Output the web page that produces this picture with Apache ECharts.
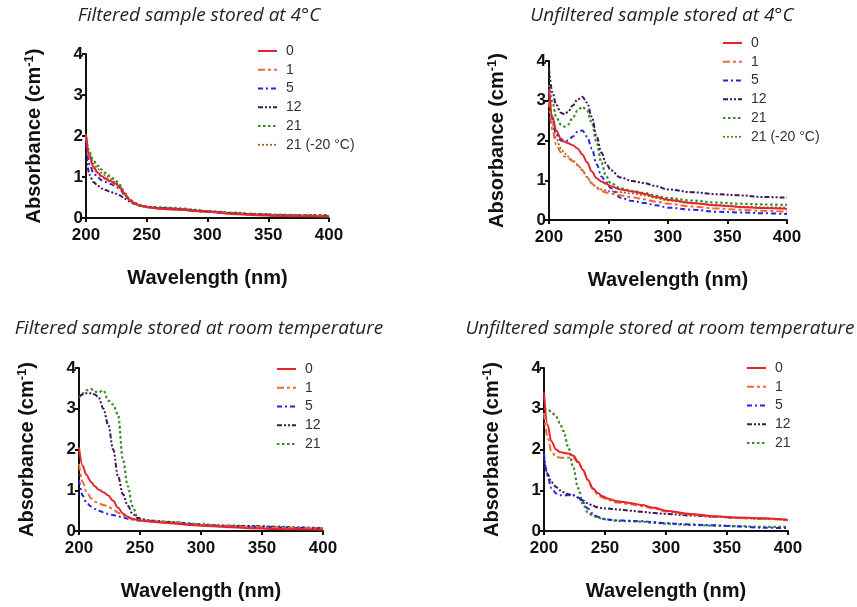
<!DOCTYPE html>
<html>
<head>
<meta charset="utf-8">
<script src="https://cdn.jsdelivr.net/npm/echarts@6/dist/echarts.min.js"></script>
<style>
  html, body { margin: 0; padding: 0; background: #ffffff; }
  #chart { width: 857px; height: 607px; }
</style>
</head>
<body>
<div id="chart"></div>
<script>
// Wavelength grid (nm) shared by every spectrum
const wavelength = [200, 203, 206, 210, 213, 216, 220, 224, 228, 232, 236, 240, 244, 248, 252, 260, 270, 280, 290, 300, 320, 340, 360, 380, 400];

// Storage time (days) of each spectrum
const daysLabels4C = ['0', '1', '5', '12', '21', '21 (-20 °C)'];
const daysLabelsRT = ['0', '1', '5', '12', '21'];

// Axis ticks
const xTicks = [200, 250, 300, 350, 400];
const yTicks = [0, 1, 2, 3, 4];

// Panel titles
const panelTitles = [
  'Filtered sample stored at 4°C',
  'Unfiltered sample stored at 4°C',
  'Filtered sample stored at room temperature',
  'Unfiltered sample stored at room temperature'
];

// Absorbance (cm-1) — filtered, 4 °C
const filt4_d0  = [2.05, 1.50, 1.25, 1.10, 1.02, 0.97, 0.90, 0.84, 0.75, 0.58, 0.44, 0.36, 0.31, 0.28, 0.26, 0.23, 0.21, 0.20, 0.17, 0.15, 0.10, 0.07, 0.05, 0.04, 0.03];
const filt4_d1  = [2.00, 1.45, 1.22, 1.08, 1.00, 0.95, 0.88, 0.82, 0.73, 0.57, 0.43, 0.35, 0.31, 0.28, 0.26, 0.23, 0.21, 0.20, 0.17, 0.15, 0.11, 0.08, 0.06, 0.05, 0.04];
const filt4_d5  = [1.85, 1.30, 1.10, 0.98, 0.92, 0.88, 0.83, 0.78, 0.70, 0.55, 0.42, 0.35, 0.30, 0.28, 0.26, 0.24, 0.22, 0.20, 0.17, 0.15, 0.11, 0.08, 0.06, 0.05, 0.04];
const filt4_d12 = [1.60, 1.05, 0.88, 0.78, 0.72, 0.68, 0.64, 0.60, 0.55, 0.47, 0.40, 0.34, 0.30, 0.28, 0.26, 0.24, 0.23, 0.21, 0.18, 0.16, 0.12, 0.09, 0.07, 0.06, 0.05];
const filt4_d21 = [1.95, 1.60, 1.40, 1.27, 1.18, 1.10, 1.02, 0.92, 0.80, 0.60, 0.45, 0.37, 0.32, 0.29, 0.27, 0.26, 0.25, 0.23, 0.20, 0.17, 0.13, 0.10, 0.08, 0.07, 0.07];
const filt4_d21f = [2.00, 1.55, 1.33, 1.20, 1.10, 1.04, 0.96, 0.88, 0.77, 0.58, 0.44, 0.36, 0.31, 0.28, 0.26, 0.25, 0.24, 0.22, 0.19, 0.16, 0.12, 0.09, 0.07, 0.06, 0.05];

// Absorbance (cm-1) — unfiltered, 4 °C
const unf4_d0  = [3.30, 2.60, 2.25, 2.05, 1.97, 1.93, 1.88, 1.80, 1.65, 1.45, 1.22, 1.05, 0.97, 0.91, 0.85, 0.77, 0.72, 0.66, 0.58, 0.51, 0.43, 0.37, 0.33, 0.30, 0.28];
const unf4_d1  = [3.00, 2.25, 1.90, 1.70, 1.60, 1.55, 1.48, 1.38, 1.25, 1.08, 0.92, 0.80, 0.73, 0.69, 0.66, 0.62, 0.57, 0.52, 0.46, 0.41, 0.34, 0.29, 0.26, 0.23, 0.21];
const unf4_d5  = [3.30, 2.50, 2.15, 2.00, 1.97, 2.00, 2.10, 2.22, 2.25, 2.10, 1.80, 1.40, 1.10, 0.95, 0.80, 0.56, 0.48, 0.43, 0.37, 0.31, 0.26, 0.21, 0.19, 0.17, 0.15];
const unf4_d12 = [3.80, 3.20, 2.90, 2.70, 2.66, 2.72, 2.88, 3.03, 3.10, 2.95, 2.60, 2.10, 1.70, 1.42, 1.25, 1.07, 0.98, 0.93, 0.85, 0.77, 0.70, 0.65, 0.62, 0.58, 0.56];
const unf4_d21 = [3.40, 2.95, 2.60, 2.40, 2.35, 2.40, 2.58, 2.75, 2.85, 2.75, 2.45, 1.95, 1.45, 1.10, 0.92, 0.80, 0.73, 0.68, 0.61, 0.55, 0.49, 0.44, 0.41, 0.39, 0.38];
const unf4_d21f = [3.20, 2.40, 2.05, 1.80, 1.68, 1.60, 1.50, 1.40, 1.25, 1.08, 0.93, 0.82, 0.77, 0.74, 0.72, 0.70, 0.67, 0.62, 0.55, 0.49, 0.42, 0.37, 0.34, 0.32, 0.31];

// Absorbance (cm-1) — filtered, room temperature
const filtRT_d0  = [2.05, 1.60, 1.38, 1.20, 1.10, 1.02, 0.95, 0.87, 0.74, 0.57, 0.43, 0.35, 0.30, 0.27, 0.25, 0.23, 0.20, 0.18, 0.15, 0.13, 0.10, 0.07, 0.05, 0.04, 0.03];
const filtRT_d1  = [1.65, 1.20, 0.97, 0.80, 0.72, 0.68, 0.64, 0.60, 0.53, 0.45, 0.38, 0.33, 0.29, 0.26, 0.25, 0.24, 0.22, 0.20, 0.17, 0.15, 0.12, 0.10, 0.08, 0.07, 0.06];
const filtRT_d5  = [1.25, 0.87, 0.70, 0.60, 0.54, 0.50, 0.46, 0.42, 0.39, 0.36, 0.33, 0.30, 0.28, 0.26, 0.25, 0.24, 0.22, 0.20, 0.17, 0.15, 0.12, 0.10, 0.09, 0.07, 0.06];
const filtRT_d12 = [3.30, 3.35, 3.38, 3.38, 3.35, 3.28, 3.00, 2.60, 2.00, 1.34, 0.90, 0.62, 0.42, 0.32, 0.28, 0.25, 0.23, 0.21, 0.18, 0.16, 0.13, 0.12, 0.10, 0.08, 0.06];
const filtRT_d21 = [3.27, 3.38, 3.45, 3.48, 3.42, 3.40, 3.45, 3.20, 3.10, 2.85, 1.75, 1.10, 0.60, 0.33, 0.28, 0.25, 0.23, 0.21, 0.19, 0.16, 0.13, 0.12, 0.11, 0.09, 0.07];

// Absorbance (cm-1) — unfiltered, room temperature
const unfRT_d0  = [3.40, 2.60, 2.20, 2.00, 1.94, 1.92, 1.90, 1.85, 1.70, 1.50, 1.25, 1.05, 0.93, 0.85, 0.80, 0.73, 0.69, 0.64, 0.57, 0.50, 0.42, 0.36, 0.33, 0.31, 0.27];
const unfRT_d1  = [2.90, 2.30, 1.95, 1.82, 1.80, 1.80, 1.80, 1.80, 1.68, 1.50, 1.25, 1.03, 0.90, 0.82, 0.76, 0.70, 0.66, 0.61, 0.55, 0.48, 0.40, 0.35, 0.32, 0.30, 0.27];
const unfRT_d5  = [1.90, 1.35, 1.05, 0.92, 0.88, 0.87, 0.88, 0.88, 0.82, 0.70, 0.55, 0.43, 0.35, 0.30, 0.28, 0.26, 0.25, 0.24, 0.22, 0.19, 0.16, 0.14, 0.11, 0.08, 0.07];
const unfRT_d12 = [1.80, 1.40, 1.20, 1.08, 1.00, 0.95, 0.90, 0.88, 0.82, 0.75, 0.68, 0.62, 0.58, 0.56, 0.55, 0.53, 0.50, 0.47, 0.44, 0.42, 0.38, 0.35, 0.32, 0.30, 0.28];
const unfRT_d21 = [3.00, 2.98, 2.93, 2.80, 2.65, 2.45, 2.05, 1.55, 1.05, 0.65, 0.45, 0.38, 0.33, 0.30, 0.28, 0.25, 0.24, 0.23, 0.20, 0.18, 0.15, 0.13, 0.12, 0.10, 0.10];

// Line appearance for each storage time
const lineLook = {
  '0':           { color: '#e3262b', type: 'solid',            width: 2 },
  '1':           { color: '#ee6a35', type: [7, 3, 3, 3],       width: 2 },
  '5':           { color: '#2424e6', type: [5, 3, 2, 3],       width: 2 },
  '12':          { color: '#3f1657', type: [5, 2, 2, 2, 2, 2], width: 2 },
  '21':          { color: '#3b8a2b', type: [2.5, 2.5],         width: 2.2 },
  '21 (-20 °C)': { color: '#93601f', type: [2, 2],             width: 1.7 }
};

const panels = [
  { grid: { left: 86,  top: 54,  width: 243, height: 164 }, labels: daysLabels4C,
    data: [filt4_d0, filt4_d1, filt4_d5, filt4_d12, filt4_d21, filt4_d21f],
    legend: { x: 258, y: 51 }, title: { cx: 194, top: 1 } },
  { grid: { left: 549, top: 61,  width: 238, height: 159 }, labels: daysLabels4C,
    data: [unf4_d0, unf4_d1, unf4_d5, unf4_d12, unf4_d21, unf4_d21f],
    legend: { x: 723, y: 43 }, title: { cx: 657, top: 1 } },
  { grid: { left: 79,  top: 368, width: 244, height: 163 }, labels: daysLabelsRT,
    data: [filtRT_d0, filtRT_d1, filtRT_d5, filtRT_d12, filtRT_d21],
    legend: { x: 277, y: 369 }, title: { cx: 194, top: 314 } },
  { grid: { left: 544, top: 368, width: 244, height: 163 }, labels: daysLabelsRT,
    data: [unfRT_d0, unfRT_d1, unfRT_d5, unfRT_d12, unfRT_d21],
    legend: { x: 747, y: 368 }, title: { cx: 655, top: 314 } }
];

const axisFont = 'Liberation Sans, Arial, sans-serif';
const legendRowStep = 18.75;

// Key beside each panel: a short line sample and its storage-time label
const legendGraphics = [];
panels.forEach(p => {
  p.labels.forEach((lab, k) => {
    const look = lineLook[lab];
    const y = p.legend.y + k * legendRowStep;
    legendGraphics.push({
      type: 'line', silent: true,
      shape: { x1: p.legend.x, y1: y, x2: p.legend.x + 19, y2: y },
      style: { stroke: look.color, lineWidth: look.width, lineDash: look.type === 'solid' ? null : look.type }
    });
    legendGraphics.push({
      type: 'text', silent: true, x: p.legend.x + 28, y: y,
      style: { text: lab, fill: '#333', font: '14px ' + axisFont, textVerticalAlign: 'middle', verticalAlign: 'middle' }
    });
  });
});

const option = {
  animation: false,
  backgroundColor: '#ffffff',
  title: panels.map((p, i) => ({
    text: panelTitles[i],
    left: p.title.cx,
    top: p.title.top,
    textAlign: 'center',
    textStyle: { fontFamily: 'Open Sans, sans-serif', fontStyle: 'italic', fontWeight: 'normal', fontSize: 19, color: '#222' }
  })),
  grid: panels.map(p => Object.assign({ containLabel: false }, p.grid)),
  xAxis: panels.map((p, i) => ({
    type: 'value', gridIndex: i, min: xTicks[0], max: xTicks[xTicks.length - 1], interval: 50,
    name: 'Wavelength (nm)', nameLocation: 'middle', nameGap: 50,
    nameTextStyle: { fontFamily: axisFont, fontWeight: 'bold', fontSize: 20, color: '#111' },
    axisLine: { show: true, onZero: false, lineStyle: { color: '#111', width: 2 } },
    axisTick: { show: true, length: 4, lineStyle: { color: '#111', width: 2 } },
    axisLabel: { fontFamily: axisFont, fontWeight: 'bold', fontSize: 17, color: '#111', margin: 9 },
    splitLine: { show: false }
  })),
  yAxis: panels.map((p, i) => ({
    type: 'value', gridIndex: i, min: yTicks[0], max: yTicks[yTicks.length - 1], interval: 1,
    name: 'Absorbance (cm{sup|-1})', nameLocation: 'middle', nameGap: 40,
    nameTextStyle: {
      fontFamily: axisFont, fontWeight: 'bold', fontSize: 20, color: '#111',
      rich: { sup: { fontFamily: axisFont, fontWeight: 'bold', fontSize: 13, color: '#111', padding: [0, 0, 10, 0] } }
    },
    axisLine: { show: true, onZero: false, lineStyle: { color: '#111', width: 2 } },
    axisTick: { show: true, length: 4, lineStyle: { color: '#111', width: 2 } },
    axisLabel: { fontFamily: axisFont, fontWeight: 'bold', fontSize: 17, color: '#111', margin: 3 },
    splitLine: { show: false }
  })),
  graphic: legendGraphics,
  series: []
};

panels.forEach((p, gi) => {
  p.labels.forEach((lab, k) => {
    const look = lineLook[lab];
    option.series.push({
      name: lab, type: 'line', xAxisIndex: gi, yAxisIndex: gi,
      data: wavelength.map((w, j) => [w, p.data[k][j]]),
      showSymbol: false, symbol: 'none', smooth: 0.35, smoothMonotone: 'x',
      lineStyle: { color: look.color, type: look.type, width: look.width },
      itemStyle: { color: look.color },
      z: 10 - k
    });
  });
});

const chart = echarts.init(document.getElementById('chart'), null, { renderer: 'canvas' });
chart.setOption(option);
</script>
</body>
</html>
